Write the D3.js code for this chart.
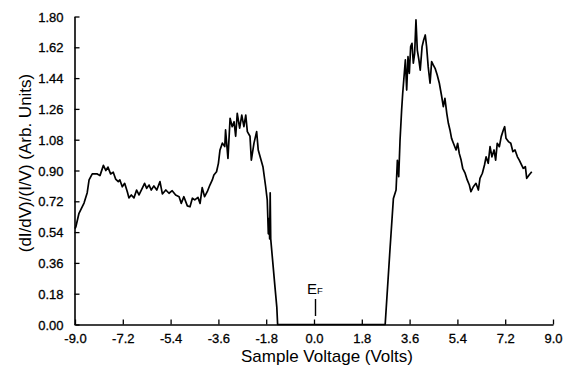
<html>
  <head>
    <meta charset="utf-8">
    <title>Tunneling Spectrum</title>
    <script src="https://cdnjs.cloudflare.com/ajax/libs/d3/7.8.5/d3.min.js"></script>
    <style>
      body { margin: 0; background: white; }
      text { font-family: "Liberation Sans", Arial, sans-serif; }
    </style>
  </head>
  <body>
    <script>
      // sample voltage (V) and normalized conductance
      var voltage = [
        -9.0, -8.97, -8.85, -8.66, -8.54, -8.47, -8.35, -8.16, -8.06, -7.93,
        -7.84, -7.76, -7.66, -7.56, -7.47, -7.37, -7.31, -7.22, -7.13, -7.03,
        -6.97, -6.88, -6.78, -6.68, -6.59, -6.47, -6.38, -6.30, -6.21, -6.13,
        -6.03, -5.92, -5.80, -5.71, -5.58, -5.46, -5.34, -5.21, -5.08, -5.00,
        -4.90, -4.77, -4.67, -4.58, -4.49, -4.37, -4.29, -4.21, -4.12, -4.02,
        -3.92, -3.83, -3.77, -3.67, -3.60, -3.54, -3.45, -3.36, -3.33, -3.24,
        -3.16, -3.08, -3.01, -2.95, -2.89, -2.80, -2.72, -2.64, -2.57, -2.51,
        -2.41, -2.36, -2.26, -2.16, -2.10, -2.01, -1.92, -1.82, -1.76, -1.72,
        -1.69, -1.67, -1.65, -1.63, -1.55, -1.47, -1.40, -1.37, 0.0, 2.68,
        2.86, 2.99, 3.09, 3.14, 3.19, 3.24, 3.30, 3.34, 3.39, 3.44,
        3.49, 3.54, 3.59, 3.64, 3.69, 3.74, 3.79, 3.84, 3.89, 3.95,
        4.00, 4.07, 4.13, 4.19, 4.24, 4.30, 4.37, 4.43, 4.49, 4.56,
        4.64, 4.72, 4.81, 4.87, 4.93, 5.00, 5.06, 5.12, 5.18, 5.25,
        5.35, 5.41, 5.47, 5.54, 5.60, 5.69, 5.77, 5.85, 5.91, 6.00,
        6.10, 6.19, 6.25, 6.34, 6.42, 6.48, 6.56, 6.63, 6.70, 6.78,
        6.84, 6.90, 6.98, 7.05, 7.13, 7.18, 7.23, 7.32, 7.41, 7.49,
        7.57, 7.66, 7.73, 7.82, 7.88, 7.96, 8.01, 8.10, 8.20
      ];
      var conductance = [
        0.56, 0.57, 0.65, 0.71, 0.77, 0.845, 0.88, 0.88, 0.87, 0.93,
        0.90, 0.92, 0.88, 0.89, 0.85, 0.835, 0.845, 0.805, 0.825, 0.776,
        0.74, 0.757, 0.74, 0.786, 0.757, 0.796, 0.825, 0.796, 0.815, 0.786,
        0.81, 0.786, 0.835, 0.763, 0.786, 0.767, 0.782, 0.757, 0.747, 0.708,
        0.747, 0.693, 0.688, 0.738, 0.728, 0.743, 0.708, 0.80, 0.747, 0.776,
        0.815, 0.845, 0.874, 0.893, 0.942, 1.02, 1.06, 1.04, 1.137, 0.97,
        1.205, 1.156, 1.185, 1.10, 1.234, 1.147, 1.224, 1.156, 1.224, 1.127,
        1.10, 0.96, 1.06, 1.127, 1.02, 0.97, 0.92, 0.805, 0.727, 0.53,
        0.62, 0.50, 0.77, 0.50, 0.36, 0.22, 0.10, 0.0, 0.0, 0.0,
        0.435, 0.737, 0.786, 0.96, 0.864, 1.078, 1.254, 1.35, 1.448, 1.546,
        1.37, 1.565, 1.468, 1.624, 1.643, 1.527, 1.585, 1.78, 1.604, 1.546,
        1.487, 1.624, 1.663, 1.692, 1.624, 1.507, 1.41, 1.536, 1.517, 1.497,
        1.458, 1.41, 1.331, 1.273, 1.322, 1.234, 1.176, 1.137, 1.088, 1.059,
        1.02, 1.059, 1.0, 0.961, 0.913, 0.884, 0.845, 0.815, 0.776, 0.805,
        0.825, 0.786, 0.854, 0.884, 0.932, 0.98, 0.942, 1.039, 0.98, 1.02,
        0.961, 1.059, 1.039, 1.098, 1.137, 1.156, 1.088, 1.069, 1.059, 1.01,
        1.02, 0.98, 0.961, 0.932, 0.913, 0.922, 0.854, 0.874, 0.893
      ];
      var xTicks = [-9.0, -7.2, -5.4, -3.6, -1.8, 0.0, 1.8, 3.6, 5.4, 7.2, 9.0];
      var yTicks = [0.00, 0.18, 0.36, 0.54, 0.72, 0.90, 1.08, 1.26, 1.44, 1.62, 1.80];
      var fermiLevel = 0.0;

      var chartwidth = 566;
      var chartheight = 366;

      var svg = d3.select("body")
        .append("svg")
        .attr("width", chartwidth)
        .attr("height", chartheight);

      var xScale = d3.scaleLinear()
        .domain([-9, 9])
        .range([75, 553]);

      var yScale = d3.scaleLinear()
        .domain([0, 1.8])
        .range([324.5, 16.5]);

      // plain hyphen for negatives, like the original print
      var fmt1 = function(d) { return d.toFixed(1); };
      var fmt2 = function(d) { return d.toFixed(2); };

      // bottom axis, ticks pointing into the plot
      var xAxis = svg.append("g")
        .attr("transform", "translate(0,324.5)")
        .call(d3.axisBottom(xScale)
          .tickValues(xTicks)
          .tickSizeInner(-5)
          .tickSizeOuter(0)
          .tickPadding(9)
          .tickFormat(fmt1));

      // left axis
      var yAxis = svg.append("g")
        .attr("transform", "translate(74.5,0)")
        .call(d3.axisLeft(yScale)
          .tickValues(yTicks)
          .tickSizeInner(-5)
          .tickSizeOuter(0)
          .tickPadding(11)
          .tickFormat(fmt2));

      svg.selectAll(".domain")
        .attr("stroke", "black")
        .attr("stroke-width", 1.6);

      svg.selectAll(".tick line")
        .attr("stroke", "black")
        .attr("stroke-width", 1.3);

      svg.selectAll(".tick text")
        .attr("fill", "black")
        .attr("font-family", "Liberation Sans, Arial, sans-serif")
        .attr("font-size", "13px")
        .attr("stroke", "black")
        .attr("stroke-width", 0.3);

      yAxis.selectAll(".tick text").attr("dy", "0.36em");

      var points = voltage.map(function(v, i) { return [v, conductance[i]]; });

      var line = d3.line()
        .x(function(d) { return xScale(d[0]); })
        .y(function(d) { return yScale(d[1]); });

      svg.append("path")
        .datum(points)
        .attr("d", line)
        .attr("fill", "none")
        .attr("stroke", "black")
        .attr("stroke-width", 1.7)
        .attr("stroke-linejoin", "round");

      // Fermi level marker
      svg.append("line")
        .attr("x1", xScale(fermiLevel) + 1.5)
        .attr("x2", xScale(fermiLevel) + 1.5)
        .attr("y1", 299)
        .attr("y2", 316)
        .attr("stroke", "black")
        .attr("stroke-width", 1.4);

      var ef = svg.append("text")
        .attr("x", xScale(fermiLevel) - 7)
        .attr("y", 294)
        .attr("fill", "black")
        .style("font-size", "15px");
      ef.append("tspan").text("E");
      ef.append("tspan").style("font-size", "9.5px").text("F");

      svg.append("text")
        .attr("x", 327)
        .attr("y", 362)
        .attr("text-anchor", "middle")
        .style("font-size", "17px")
        .attr("fill", "black")
        .text("Sample Voltage (Volts)");

      svg.append("text")
        .attr("transform", "translate(31,163) rotate(-90)")
        .attr("text-anchor", "middle")
        .style("font-size", "17px")
        .attr("fill", "black")
        .text("(dI/dV)/(I/V) (Arb. Units)");
    </script>
  </body>
</html>
